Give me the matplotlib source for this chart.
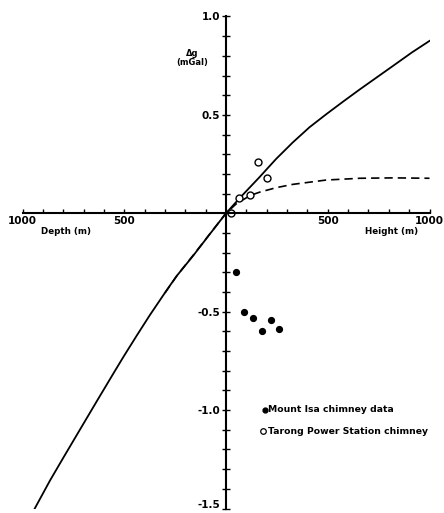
import matplotlib
matplotlib.use('Agg')
import matplotlib.pyplot as plt
import matplotlib.transforms as mtransforms
from matplotlib.ticker import MultipleLocator, FuncFormatter

plt.rcParams['font.family'] = ['DejaVu Sans']
plt.rcParams['font.weight'] = 'bold'

# curva continua (altura positiva, profundidad negativa)
solid_x = [-945, -865, -800, -717, -635, -554, -505, -439, -374, -291, -242, -161, -79, 0,
           66, 164, 246, 328, 410, 492, 576, 658, 740, 822, 913, 1000]
solid_y = [-1.51, -1.358, -1.243, -1.098, -0.955, -0.815, -0.731, -0.622, -0.517, -0.39,
           -0.318, -0.215, -0.105, 0.0,
           0.076, 0.183, 0.276, 0.36, 0.437, 0.503, 0.568, 0.63, 0.69, 0.75, 0.817, 0.876]

# curva discontinua
dash_x = [-300, -242, -161, -79, 0, 49, 118, 164, 246, 328, 492, 658, 822, 1000]
dash_y = [-0.405, -0.318, -0.213, -0.104, 0.0, 0.047, 0.09, 0.107, 0.13, 0.147, 0.169,
          0.178, 0.18, 0.178]

# datos Mount Isa
isa_x = [47, 88, 134, 175, 220, 260]
isa_y = [-0.30, -0.50, -0.534, -0.60, -0.54, -0.59]

# datos Tarong
tarong_x = [23, 62, 118, 157, 200]
tarong_y = [0.0, 0.08, 0.094, 0.26, 0.177]

fig = plt.figure(figsize=(4.44, 5.13), dpi=100)
ax = fig.add_axes([22.5 / 444, 4.5 / 513, 407 / 444, 492 / 513])
ax.set_xlim(-1000, 1000)
ax.set_ylim(-1.5, 1.0)

ax.plot(solid_x, solid_y, color='black', lw=1.3, solid_joinstyle='round', clip_on=True)
ax.plot(dash_x, dash_y, color='black', lw=1.2, ls=(0, (5, 3)))
ax.plot(isa_x, isa_y, 'o', color='black', ms=4.2, ls='none')
ax.plot(tarong_x, tarong_y, 'o', mfc='white', mec='black', mew=1.0, ms=5, ls='none')

for s in ['top', 'right']:
    ax.spines[s].set_visible(False)
ax.spines['left'].set_position(('data', 0))
ax.spines['bottom'].set_position(('data', 0))
ax.spines['left'].set_linewidth(1.5)
ax.spines['bottom'].set_linewidth(1.5)

ax.set_xticks([-1000, -500, 500, 1000])
ax.xaxis.set_minor_locator(MultipleLocator(100))
ax.xaxis.set_major_formatter(FuncFormatter(lambda v, p: '%d' % abs(v)))
ax.set_yticks([-1.5, -1.0, -0.5, 0.5, 1.0])
ax.yaxis.set_minor_locator(MultipleLocator(0.1))
ax.yaxis.set_major_formatter(FuncFormatter(lambda v, p: '%.1f' % v))
ax.tick_params(axis='x', which='both', direction='in', length=3, width=1.0,
               labelsize=7.5, pad=2)
ax.tick_params(axis='y', which='both', direction='inout', length=6, width=1.0,
               labelsize=7.5, pad=1)
fig.canvas.draw()
for lab in ax.get_xticklabels() + ax.get_yticklabels():
    lab.set_fontweight('bold')
# subir un poco la etiqueta -1.5 para que no se corte
for lab in ax.get_yticklabels():
    if lab.get_text().startswith('-1.5') or lab.get_text().startswith('\u22121.5'):
        lab.set_transform(lab.get_transform() +
                          mtransforms.ScaledTranslation(0, 3 / 72, fig.dpi_scale_trans))

ax.text(-167, 0.79, '\u0394g\n(mGal)', fontsize=6, fontweight='bold', ha='center', va='center',
        linespacing=1.0)
ax.text(-785, -0.09, 'Depth (m)', fontsize=6.3, fontweight='bold', ha='center', va='center')
ax.text(945, -0.09, 'Height (m)', fontsize=6.3, fontweight='bold', ha='right', va='center')

ax.plot([192], [-0.997], 'o', color='black', ms=3.5)
ax.text(206, -0.997, 'Mount Isa chimney data', fontsize=6.7, fontweight='bold', va='center')
ax.plot([183], [-1.107], 'o', mfc='white', mec='black', mew=0.9, ms=4)
ax.text(206, -1.107, 'Tarong Power Station chimney', fontsize=6.7, fontweight='bold',
        va='center')

fig.savefig('out.png', dpi=100)
